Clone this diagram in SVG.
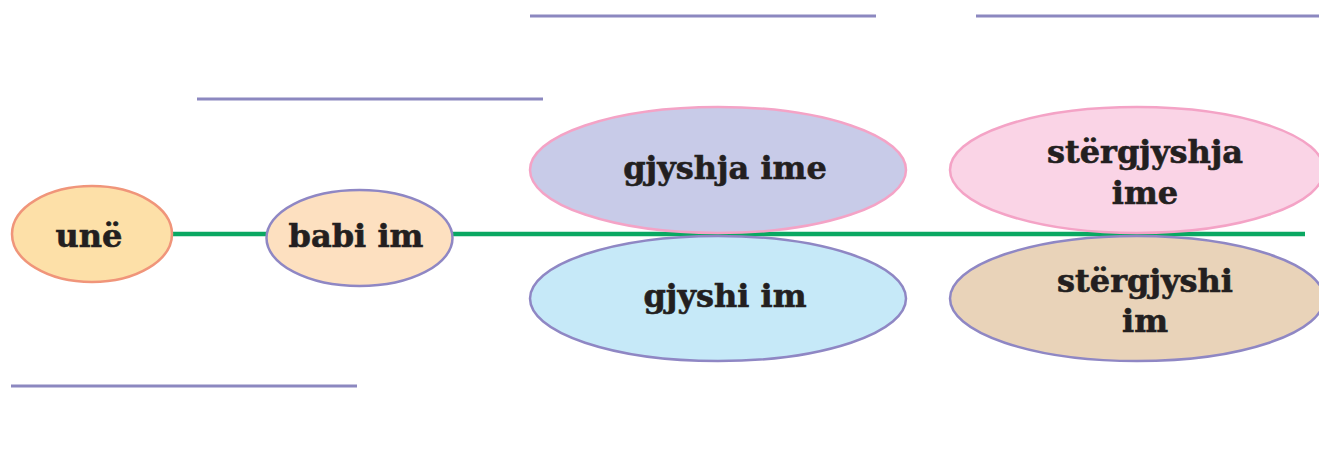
<svg xmlns="http://www.w3.org/2000/svg" width="1319" height="449" viewBox="0 0 1319 449">
<style>
.blank{stroke:#8c88c0;stroke-width:3;fill:none}
.lbl{font-family:"DejaVu Serif","Liberation Serif",serif;font-weight:bold;font-size:32px;fill:#231f20;stroke:#231f20;stroke-width:0.6;text-anchor:middle}
.n{stroke-width:2.5}
</style>
<rect width="1319" height="449" fill="#ffffff"/>
<g id="blanks">
<line class="blank" x1="530" y1="16" x2="876" y2="16"/>
<line class="blank" x1="976" y1="16" x2="1319" y2="16"/>
<line class="blank" x1="197" y1="99" x2="543" y2="99"/>
<line class="blank" x1="11" y1="386" x2="357" y2="386"/>
</g>
<g id="connectors">
<line x1="170" y1="234" x2="1305" y2="234" stroke="#0aa862" stroke-width="4.5"/>
</g>
<g id="une">
<ellipse class="n" cx="92" cy="234" rx="80" ry="48" fill="#fde0a8" stroke="#f0957a"/>
<text class="lbl" x="89" y="247">unë</text>
</g>
<g id="babi">
<ellipse class="n" cx="359.5" cy="238" rx="93" ry="48" fill="#fde0c0" stroke="#8f87c4"/>
<text class="lbl" x="356" y="247">babi im</text>
</g>
<g id="gjyshja">
<ellipse class="n" cx="718" cy="170" rx="188" ry="63" fill="#c8cbe8" stroke="#f4a3c6"/>
<text class="lbl" x="725" y="179">gjyshja ime</text>
</g>
<g id="gjyshi">
<ellipse class="n" cx="718" cy="298.5" rx="188" ry="62.5" fill="#c6e9f8" stroke="#8f87c4"/>
<text class="lbl" x="725" y="307">gjyshi im</text>
</g>
<g id="stergjyshja">
<ellipse class="n" cx="1137" cy="170" rx="187" ry="63" fill="#fad4e6" stroke="#f4a3c6"/>
<text class="lbl" x="1145" y="163">stërgjyshja</text>
<text class="lbl" x="1145" y="204">ime</text>
</g>
<g id="stergjyshi">
<ellipse class="n" cx="1137" cy="298.5" rx="187" ry="62.5" fill="#e9d3b9" stroke="#8f87c4"/>
<text class="lbl" x="1145" y="292">stërgjyshi</text>
<text class="lbl" x="1145" y="332">im</text>
</g>
</svg>
